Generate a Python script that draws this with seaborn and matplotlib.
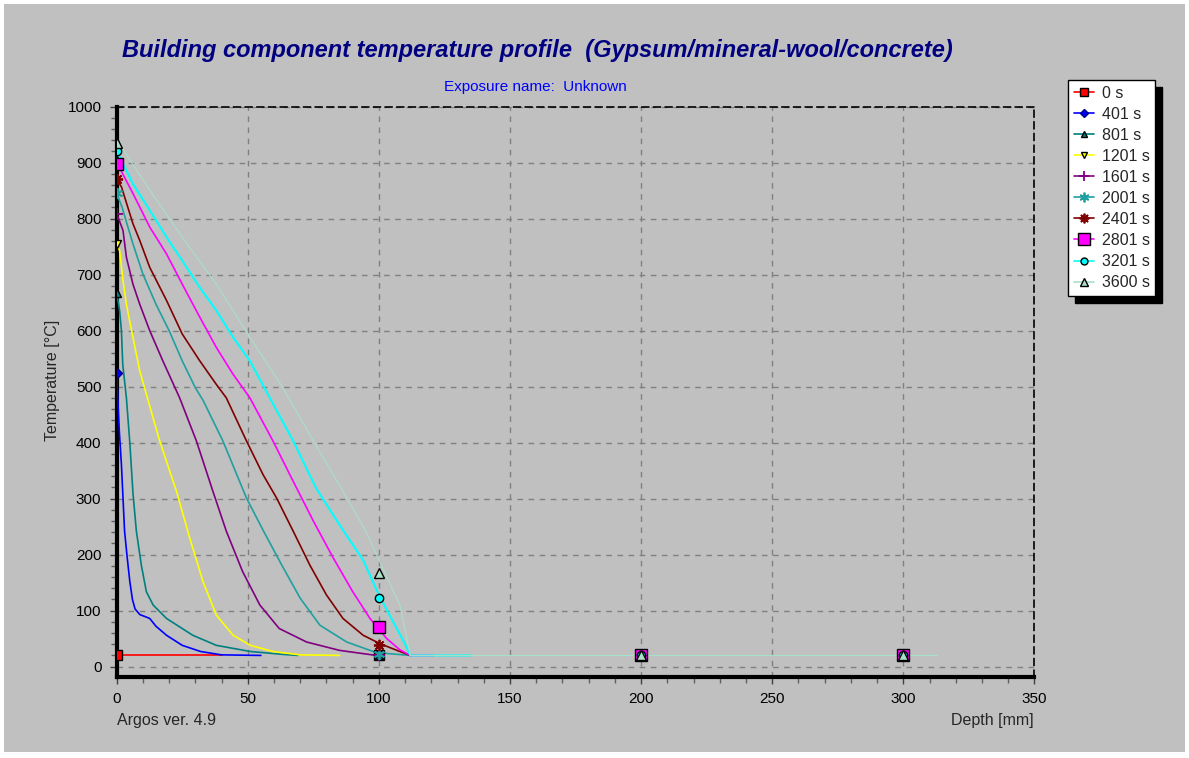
import matplotlib
matplotlib.use("Agg")
import matplotlib.pyplot as plt
from matplotlib.lines import Line2D
from matplotlib.patches import Rectangle
from matplotlib.ticker import MultipleLocator
import seaborn as sns
import pandas as pd

# --- data ---
labels = ['0 s', '401 s', '801 s', '1201 s', '1601 s', '2001 s', '2401 s', '2801 s', '3201 s', '3600 s']

depth_0 = [0, 40]
temp_0 = [20, 20]
depth_401 = [0, 0.4, 1.0, 1.8, 3.0, 4.0, 5.0, 6.0, 7.0, 8.8, 11, 12.6, 15, 19, 25, 32, 40, 55]
temp_401 = [525, 480, 420, 361, 242, 195, 152, 120, 103, 93, 89, 86, 72, 56, 38, 27, 21, 20]
depth_801 = [0, 1.1, 1.8, 2.3, 3.7, 5.0, 6.2, 7.5, 9.4, 11.3, 13.9, 19, 29, 38, 51, 63, 69]
temp_801 = [668, 636, 600, 540, 480, 400, 310, 242, 181, 134, 110, 86, 56, 38, 27, 22, 20]
depth_1201 = [0, 1.1, 2.4, 3.7, 6.2, 8.8, 12, 16.4, 22.8, 27.9, 32.9, 38, 44.4, 51, 59.6, 70, 85]
temp_1201 = [755, 743, 690, 647, 588, 528, 475, 403, 313, 229, 152, 92, 56, 38, 27, 21, 20]
depth_1601 = [0, 2.4, 3.7, 6.2, 8.8, 12.6, 17.6, 24, 30.4, 36.7, 41.8, 48, 54.6, 62, 72.4, 85, 99]
temp_1601 = [809, 779, 731, 683, 647, 600, 546, 480, 403, 313, 242, 170, 110, 68, 44, 29, 20]
depth_2001 = [0, 2, 6.2, 10, 15, 20, 25, 30, 33, 40.5, 49.5, 56, 63, 70, 77.5, 87.7, 99, 112]
temp_2001 = [845, 821, 755, 701, 647, 600, 546, 498, 475, 403, 301, 242, 181, 122, 74, 44, 25, 20]
depth_2401 = [0, 1.8, 6.2, 8.8, 12.6, 19, 25, 31.7, 38, 41.8, 49.5, 55.8, 61, 67.3, 73.7, 80, 86.3, 94, 100.4, 108, 112]
temp_2401 = [870, 857, 791, 761, 713, 654, 594, 546, 504, 480, 403, 343, 301, 242, 181, 128, 86, 56, 41, 27, 20]
depth_2801 = [0, 1.5, 6.2, 12.6, 19, 25, 31.7, 38, 44.4, 50.8, 59.6, 67.3, 75, 82.6, 90, 96.6, 103, 108, 112, 121]
temp_2801 = [898, 887, 845, 785, 737, 683, 624, 570, 522, 480, 403, 331, 260, 194, 134, 86, 50, 30, 20, 20]
depth_3201 = [0, 1.5, 6.2, 12.6, 19, 25, 31.7, 38, 44.4, 50.8, 57, 67.3, 76, 85, 94, 100, 106, 110, 112, 135]
temp_3201 = [920, 907, 862, 815, 767, 725, 677, 636, 588, 546, 492, 403, 319, 253, 190, 128, 75, 40, 20, 20]
depth_3600 = [0, 1.8, 12.6, 25, 38, 50.8, 63.4, 75, 86.3, 95, 102, 108, 112, 313]
temp_3600 = [935, 928, 851, 767, 683, 588, 498, 403, 313, 242, 170, 110, 20, 20]

marker_depth = [0, 100, 200, 300]
marker_temp = {
    '0 s': [20, 20, 20, 20],
    '401 s': [525, 20, 20, 20],
    '801 s': [668, 20, 20, 20],
    '1201 s': [755, 20, 20, 20],
    '1601 s': [809, 20, 20, 20],
    '2001 s': [845, 22, 20, 20],
    '2401 s': [870, 38, 20, 20],
    '2801 s': [898, 70, 20, 20],
    '3201 s': [920, 123, 20, 20],
    '3600 s': [935, 168, 20, 20],
}

curves = {
    '0 s': (depth_0, temp_0), '401 s': (depth_401, temp_401), '801 s': (depth_801, temp_801),
    '1201 s': (depth_1201, temp_1201), '1601 s': (depth_1601, temp_1601), '2001 s': (depth_2001, temp_2001),
    '2401 s': (depth_2401, temp_2401), '2801 s': (depth_2801, temp_2801), '3201 s': (depth_3201, temp_3201),
    '3600 s': (depth_3600, temp_3600),
}

# --- styles ---
colors = ['#ff0000', '#0000ff', '#008080', '#ffff00', '#800080', '#20a0a0', '#800000', '#ff00ff', '#00ffff', '#a8e0c8']
markers = ['s', 'D', '^', 'v', '+', (6, 2, 0), (8, 2, 0), 's', 'o', '^']
msizes = [7, 5, 6, 6, 8, 8, 8, 9, 6, 7]
edges = ['black', '#000080', 'black', 'black', None, None, None, 'black', 'black', 'black']
lwidths = [1.2, 1.2, 1.2, 1.2, 1.2, 1.2, 1.2, 1.2, 1.5, 0.8]

BG = '#c0c0c0'

sns.set_theme(style="white")
plt.rcParams['font.family'] = ['Liberation Sans', 'DejaVu Sans']

fig = plt.figure(figsize=(11.89, 7.58), dpi=100)
fig.patch.set_facecolor('white')
fig.patches.append(Rectangle((4 / 1189, 6 / 758), 1181 / 1189, 748 / 758, transform=fig.transFigure,
                             facecolor=BG, edgecolor='none', zorder=-10))

ax = fig.add_axes([116.7 / 1189, (758 - 676.7) / 758, 917.7 / 1189, 570 / 758])
ax.set_facecolor(BG)

rows = []
for lab in labels:
    xs, ys = curves[lab]
    for x, y in zip(xs, ys):
        rows.append({'Depth': x, 'Temp': y, 'Series': lab})
df = pd.DataFrame(rows)

for i, lab in enumerate(labels):
    sub = df[df['Series'] == lab]
    sns.lineplot(data=sub, x='Depth', y='Temp', color=colors[i], lw=lwidths[i], sort=False,
                 estimator=None, ax=ax, zorder=3 + i)

# markers: clipped at the axes, so the ones at depth 0 are half hidden like in the original
for i, lab in enumerate(labels):
    mk = markers[i]
    filled = edges[i] is not None
    ax.plot(marker_depth, marker_temp[lab], ls='none', marker=mk, ms=msizes[i],
            mfc=colors[i] if filled else 'none', mec=edges[i] if filled else colors[i],
            mew=1.0 if filled else 1.3, zorder=20 + i)

ax.set_xlim(0, 350)
ax.set_ylim(-18, 1000)
ax.xaxis.set_major_locator(MultipleLocator(50))
ax.xaxis.set_minor_locator(MultipleLocator(10))
ax.yaxis.set_major_locator(MultipleLocator(100))
ax.yaxis.set_minor_locator(MultipleLocator(20))
ax.tick_params(which='major', direction='out', length=5, width=1, color='#404040',
               labelsize=11, labelcolor='black', left=True, bottom=True, pad=6)
ax.tick_params(which='minor', direction='out', length=4, width=1, color='#606060', left=True, bottom=True)
ax.grid(True, which='major', color='#808080', ls=(0, (4, 4)), lw=1)

for side in ['left', 'bottom']:
    ax.spines[side].set_color('black')
    ax.spines[side].set_linewidth(3)
for side in ['top', 'right']:
    ax.spines[side].set_color('black')
    ax.spines[side].set_linewidth(1.2)
    ax.spines[side].set_linestyle((0, (4, 3)))

ax.set_xlabel('')
ax.set_ylabel('')
fig.text(52 / 1189, 1 - 380 / 758, 'Temperature [°C]', rotation=90, ha='center', va='center', fontsize=11.5)

fig.text(537 / 1189, 1 - 50 / 758, 'Building component temperature profile  (Gypsum/mineral-wool/concrete)',
         ha='center', va='center', fontsize=17, fontweight='bold', fontstyle='italic', color='#000080')
fig.text(535 / 1189, 1 - 87 / 758, 'Exposure name:  Unknown', ha='center', va='center',
         fontsize=11, color='#0000ff')
fig.text(117 / 1189, 1 - 720 / 758, 'Argos ver. 4.9', ha='left', va='center', fontsize=11.5)
fig.text(1034 / 1189, 1 - 720 / 758, 'Depth [mm]', ha='right', va='center', fontsize=11.5)

handles = []
for i, lab in enumerate(labels):
    filled = edges[i] is not None
    handles.append(Line2D([0], [0], color=colors[i], lw=1.2, marker=markers[i], ms=msizes[i] - 1,
                          mfc=colors[i] if filled else 'none', mec=edges[i] if filled else colors[i],
                          mew=1.0 if filled else 1.3))
leg = fig.legend(handles, labels, loc='upper left', bbox_to_anchor=(1068 / 1189, 1 - 80 / 758),
                 frameon=True, fancybox=False, shadow={'color': 'black', 'alpha': 1, 'ox': 5, 'oy': -5},
                 fontsize=11.5, handlelength=1.3, handletextpad=0.45, labelspacing=0.38,
                 borderpad=0.35, borderaxespad=0)
leg.get_frame().set_edgecolor('black')
leg.get_frame().set_linewidth(1.0)
leg.get_frame().set_facecolor('white')

fig.savefig('out.png', dpi=100, facecolor=fig.get_facecolor())
